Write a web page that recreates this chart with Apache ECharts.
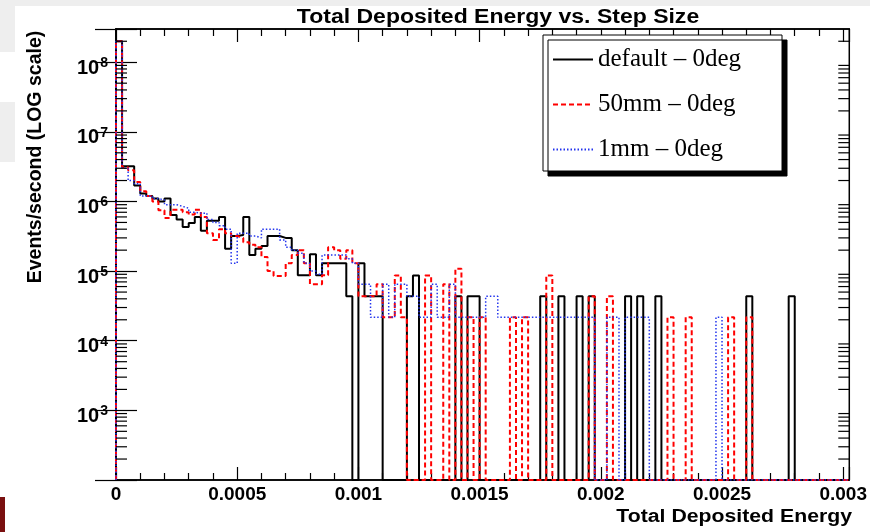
<!DOCTYPE html>
<html>
<head>
<meta charset="utf-8">
<script src="https://cdn.jsdelivr.net/npm/echarts@6/dist/echarts.min.js"></script>
<style>
  html, body { margin: 0; padding: 0; background: #fff; }
  #chart { width: 870px; height: 532px; }
</style>
</head>
<body>
<div id="chart"></div>
<script>
// histogram binning (ROOT style, 121 bins of 2.5e-5)
var binWidth = 0.000025;
var xMax = 0.003025;
var yMin = 100;
var yMax = 3e8;

// events/second per bin, 0 = empty bin
var defaultVals = [
  2.0e8, 3.2e6, 3.2e6, 1.7e6, 1.3e6, 1.2e6, 1.1e6, 1.0e6, 1.1e6, 6.4e5,
  5.5e5, 4.3e5, 4.9e5, 6.0e5, 3.8e5, 5.3e5, 5.3e5, 6.0e5, 2.1e5, 3.2e5,
  3.3e5, 6.0e5, 1.7e5, 2.1e5, 2.3e5, 3.2e5, 3.2e5, 3.0e5, 3.0e5, 2.0e5,
  8.7e4, 8.7e4, 1.74e5, 8.7e4, 1.3e5, 1.3e5, 1.3e5, 1.3e5, 4.34e4, 0,
  1.3e5, 4.34e4, 4.34e4, 4.34e4, 0, 0, 0, 0, 4.34e4, 8.68e4,
  0, 0, 0, 0, 0, 0, 4.34e4, 0, 4.34e4, 4.34e4,
  0, 0, 0, 0, 0, 0, 0, 0, 0, 0,
  4.34e4, 0, 0, 4.34e4, 0, 0, 4.34e4, 0, 4.34e4, 0,
  0, 0, 0, 0, 4.34e4, 0, 4.34e4, 0, 0, 4.34e4,
  0, 0, 0, 0, 0, 0, 0, 0, 0, 0,
  0, 0, 0, 0, 4.34e4, 0, 0, 0, 0, 0,
  0, 4.34e4, 0, 0, 0, 0, 0, 0, 0, 0,
  0
];
var step50Vals = [
  2.0e8, 3.1e6, 2.8e6, 1.9e6, 1.4e6, 1.2e6, 1.0e6, 7.5e5, 5.8e5, 7.6e5,
  7.6e5, 7.0e5, 6.5e5, 7.6e5, 6.0e5, 3.5e5, 2.8e5, 4.0e5, 3.5e5, 3.2e5,
  3.0e5, 2.6e5, 2.4e5, 2.2e5, 1.6e5, 1.0e5, 8.5e4, 8.5e4, 1.3e5, 1.7e5,
  2.0e5, 1.3e5, 6.5e4, 6.5e4, 8.7e4, 2.2e5, 2.0e5, 1.5e5, 2.0e5, 1.3e5,
  4.34e4, 4.34e4, 4.34e4, 6.5e4, 2.17e4, 2.17e4, 8.68e4, 2.17e4, 0, 0,
  0, 8.68e4, 0, 0, 6.5e4, 0, 1.085e5, 0, 2.17e4, 0,
  2.17e4, 0, 0, 0, 0, 2.17e4, 0, 2.17e4, 0, 0,
  0, 8.68e4, 0, 0, 0, 0, 0, 0, 4.34e4, 0,
  0, 4.34e4, 0, 0, 0, 0, 0, 0, 0, 0,
  0, 2.17e4, 0, 0, 2.17e4, 0, 0, 0, 0, 0,
  0, 2.17e4, 0, 0, 2.17e4, 0, 0, 0, 0, 0,
  0, 0, 0, 0, 0, 0, 0, 0, 0, 0,
  0
];
var step1Vals = [
  2.0e8, 3.0e6, 2.0e6, 1.8e6, 1.2e6, 1.2e6, 1.1e6, 1.05e6, 9.0e5, 9.0e5,
  8.5e5, 8.0e5, 7.0e5, 6.8e5, 6.8e5, 5.5e5, 5.0e5, 4.5e5, 4.0e5, 1.3e5,
  3.5e5, 3.5e5, 3.2e5, 3.0e5, 4.0e5, 4.0e5, 4.0e5, 2.8e5, 2.2e5, 2.0e5,
  1.8e5, 1.3e5, 1.0e5, 9.0e4, 1.7e5, 1.7e5, 1.7e5, 1.7e5, 1.5e5, 1.3e5,
  6.5e4, 6.5e4, 2.17e4, 2.17e4, 6.5e4, 2.17e4, 6.5e4, 6.5e4, 4.34e4, 4.34e4,
  2.17e4, 2.17e4, 6.5e4, 2.17e4, 2.17e4, 6.5e4, 2.17e4, 2.17e4, 2.17e4, 2.17e4,
  2.17e4, 4.34e4, 4.34e4, 2.17e4, 2.17e4, 2.17e4, 2.17e4, 2.17e4, 2.17e4, 2.17e4,
  2.17e4, 2.17e4, 2.17e4, 2.17e4, 2.17e4, 2.17e4, 2.17e4, 2.17e4, 2.17e4, 0,
  0, 2.17e4, 2.17e4, 0, 2.17e4, 2.17e4, 2.17e4, 2.17e4, 0, 0,
  0, 0, 0, 0, 0, 0, 0, 0, 0, 2.17e4,
  0, 0, 0, 0, 0, 0, 0, 0, 0, 0,
  0, 0, 0, 0, 0, 0, 0, 0, 0, 0,
  0
];

var seriesNames = ['default \u2013 0deg', '50mm \u2013 0deg', '1mm \u2013 0deg'];
var seriesColors = ['#000000', '#ff0000', '#2233ee'];
var minorMult = [2, 3, 4, 5, 6, 7, 8, 9];

// outline of a histogram: flat top per bin, empty bins drop to the frame
function stepPoints(vals) {
  var pts = [[0, yMin]];
  for (var i = 0; i < vals.length; i++) {
    var v = vals[i] > 0 ? vals[i] : yMin;
    pts.push([i * binWidth, v]);
    pts.push([(i + 1) * binWidth, v]);
  }
  pts.push([vals.length * binWidth, yMin]);
  return pts;
}

// minor ticks of the log axis (2..9 x 10^n)
var minorTicks = [];
for (var e = 2; e <= 8; e++) {
  for (var m = 0; m < minorMult.length; m++) {
    var t = minorMult[m] * Math.pow(10, e);
    if (t < yMax) minorTicks.push([0, t]);
  }
}

var chart = echarts.init(document.getElementById('chart'));
var font = 'Liberation Sans, Arial, Helvetica, sans-serif';

var tickFmt = function(v) {
  var p = Math.log(v) / Math.LN10;
  var r = Math.round(p);
  if (Math.abs(p - r) > 1e-6 || r < 3) return '';
  return '{b|10}{s|' + r + '}';
};

var option = {
  animation: false,
  backgroundColor: '#ffffff',
  grid: {
    left: 116, right: 17, top: 29, bottom: 52,
    show: true, borderColor: '#000', borderWidth: 1.5, backgroundColor: '#fff'
  },
  legend: {
    orient: 'vertical',
    left: 543, top: 35,
    padding: [12, 10, 9, 9],
    itemWidth: 40, itemHeight: 25, itemGap: 20,
    backgroundColor: '#fff',
    borderColor: '#000', borderWidth: 1,
    borderRadius: 0,
    shadowColor: '#000', shadowBlur: 0, shadowOffsetX: 5, shadowOffsetY: 5,
    itemStyle: { opacity: 0 },
    textStyle: { fontFamily: 'Liberation Serif, Times New Roman, serif', fontSize: 25, color: '#000', width: 174, lineHeight: 25 },
    data: seriesNames
  },
  xAxis: [{
    type: 'value', min: 0, max: xMax, interval: 0.0005,
    axisLine: { lineStyle: { color: '#000', width: 1.5 } },
    axisTick: { inside: true, length: 13, lineStyle: { color: '#000', width: 1.2 } },
    minorTick: { show: true, splitNumber: 5, length: 7, lineStyle: { color: '#000', width: 1.2 } },
    splitLine: { show: false },
    axisLabel: {
      margin: 5, showMaxLabel: false, color: '#000',
      fontFamily: font, fontWeight: 'bold', fontSize: 19,
      formatter: function(v) { return v === 0 ? '0' : String(+v.toFixed(4)); }
    }
  }, {
    type: 'value', position: 'top', min: 0, max: xMax, interval: 0.0005,
    axisLine: { lineStyle: { color: '#000', width: 1.5 } },
    axisTick: { inside: true, length: 13, lineStyle: { color: '#000', width: 1.2 } },
    minorTick: { show: true, splitNumber: 5, length: 7, lineStyle: { color: '#000', width: 1.2 } },
    splitLine: { show: false },
    axisLabel: { show: false }
  }],
  yAxis: [{
    type: 'log', logBase: 10, min: yMin, max: yMax,
    axisLine: { lineStyle: { color: '#000', width: 1.5 } },
    axisTick: { inside: true, length: 21, lineStyle: { color: '#000', width: 1.2 } },
    splitLine: { show: false },
    axisLabel: {
      margin: 8, color: '#000', padding: [12, 0, 0, 0],
      formatter: tickFmt,
      rich: {
        b: { fontFamily: font, fontWeight: 'bold', fontSize: 20, color: '#000' },
        s: { fontFamily: font, fontWeight: 'bold', fontSize: 14, color: '#000', verticalAlign: 'top', padding: [0, 0, 10, 1] }
      }
    }
  }, {
    type: 'log', logBase: 10, min: yMin, max: yMax, position: 'right',
    axisLine: { lineStyle: { color: '#000', width: 1.5 } },
    axisTick: { inside: true, length: 21, lineStyle: { color: '#000', width: 1.2 } },
    splitLine: { show: false },
    axisLabel: { show: false }
  }],
  graphic: [
    // bits of the surrounding slide visible in the screenshot
    { type: 'rect', shape: { x: 0, y: 0, width: 870, height: 6 }, style: { fill: '#eeeeee' }, z: -10 },
    { type: 'rect', shape: { x: 0, y: 0, width: 15, height: 52 }, style: { fill: '#eeeeee' }, z: -10 },
    { type: 'rect', shape: { x: 0, y: 102, width: 15, height: 60 }, style: { fill: '#eeeeee' }, z: -10 },
    { type: 'rect', shape: { x: 0, y: 497, width: 5, height: 35 }, style: { fill: '#7a1010' }, z: -10 },
    {
      type: 'text', x: 498, y: 18, scaleX: 1.18,
      style: { text: 'Total Deposited Energy vs. Step Size', align: 'center', verticalAlign: 'middle',
        font: 'bold 19.5px ' + font, fill: '#000' }
    },
    {
      type: 'text', x: 36, y: 157, rotation: Math.PI / 2,
      style: { text: 'Events/second (LOG scale)', align: 'center', verticalAlign: 'middle',
        font: 'bold 19.5px ' + font, fill: '#000' }
    },
    {
      type: 'text', x: 852, y: 517, scaleX: 1.18,
      style: { text: 'Total Deposited Energy', align: 'right', verticalAlign: 'middle',
        font: 'bold 18px ' + font, fill: '#000' }
    }
  ],
  series: [
    {
      name: seriesNames[0], type: 'line', data: stepPoints(defaultVals),
      xAxisIndex: 0, yAxisIndex: 0, symbol: 'none', z: 3,
      lineStyle: { color: seriesColors[0], width: 2 }, itemStyle: { color: seriesColors[0] }
    },
    {
      name: seriesNames[1], type: 'line', data: stepPoints(step50Vals),
      xAxisIndex: 0, yAxisIndex: 0, symbol: 'none', z: 4,
      lineStyle: { color: seriesColors[1], width: 2, type: [5, 3] }, itemStyle: { color: seriesColors[1] }
    },
    {
      name: seriesNames[2], type: 'line', data: stepPoints(step1Vals),
      xAxisIndex: 0, yAxisIndex: 0, symbol: 'none', z: 5,
      lineStyle: { color: seriesColors[2], width: 1.5, type: [1.5, 2] }, itemStyle: { color: seriesColors[2] }
    },
    {
      // minor log ticks on both frame sides
      type: 'custom', xAxisIndex: 0, yAxisIndex: 0, data: minorTicks, silent: true, z: 6,
      renderItem: function(params, api) {
        var p = api.coord([0, api.value(1)]);
        var left = params.coordSys.x, right = params.coordSys.x + params.coordSys.width;
        return {
          type: 'group', children: [
            { type: 'line', shape: { x1: left, y1: p[1], x2: left + 11, y2: p[1] }, style: { stroke: '#000', lineWidth: 1.2 } },
            { type: 'line', shape: { x1: right - 11, y1: p[1], x2: right, y2: p[1] }, style: { stroke: '#000', lineWidth: 1.2 } }
          ]
        };
      }
    }
  ]
};
chart.setOption(option);
</script>
</body>
</html>
